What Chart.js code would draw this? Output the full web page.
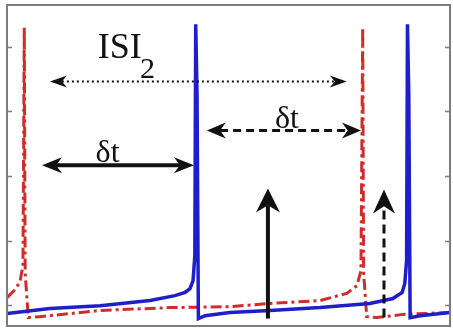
<!DOCTYPE html>
<html>
<head>
<meta charset="utf-8">
<script src="https://cdn.jsdelivr.net/npm/chart.js@4.4.1/dist/chart.umd.min.js"></script>
<style>
  html, body { margin: 0; padding: 0; background: #fff; }
  canvas { display: block; }
</style>
</head>
<body>
<canvas id="spikes" width="453" height="332"></canvas>
<script>
// trace 1 (blue, solid) - time / voltage
const blueT = [0, 9.7, 21.0, 32.3, 37.9, 40.2, 41.3, 42.0, 42.4, 42.6, 42.9, 43.2, 44.7, 50.3, 59.4, 70.7, 81.9, 87.1, 89.2, 89.8, 90.2, 90.4, 90.7, 91.0, 93.3, 100];
const blueV = [-62.6, -61.1, -60.2, -58.6, -57.1, -56.1, -54.9, -52.4, -44.7, 27.0, 5.0, -64.2, -63.3, -62.3, -61.7, -60.8, -59.5, -58.0, -56.1, -53.3, -46.2, 27.0, 5.0, -63.9, -63.3, -62.3];

// trace 2 (red, dash-dot)
const redT = [0, 1.6, 2.9, 3.6, 3.9, 4.1, 4.8, 7.4, 21.0, 36.8, 50.3, 59.4, 70.7, 76.7, 79.0, 79.9, 80.3, 80.5, 81.2, 83.5, 89.4, 100];
const redV = [-57.7, -55.5, -53.0, -47.8, 26.0, -50.0, -63.9, -63.6, -61.7, -60.8, -60.5, -59.5, -58.6, -56.4, -54.0, -49.3, 26.0, -50.0, -63.6, -63.9, -62.9, -62.3];

// y tick values (ticks only, no labels)
const yTicks = [-60, -40, -20, 0, 20];

// horizontal arrows: start t, end t, level
const hArrowT0 = [9.7, 7.9, 45.1];
const hArrowT1 = [76.7, 42.2, 79.9];
const hArrowV = [9.3, -16.7, -5.9];

// vertical arrows: t, from v, to v
const vArrowT = [58.9, 85.1];
const vArrowV0 = [-64.2, -63.9];
const vArrowV1 = [-23.9, -24.2];

// text labels
const labelText = ['ISI', '2', 'δt', 'δt'];
const labelT = [20.5, 30.0, 22.7, 63.2];
const labelV = [16.7, 10.5, -15.8, -5.0];

const toPts = (ts, vs) => ts.map((t, i) => ({ x: t, y: vs[i] }));

function drawHead(ctx, tx, ty, ang, len, half) {
    const c = Math.cos(ang), s = Math.sin(ang);
    const bx = tx - len * c, by = ty - len * s;
    const nx = -s, ny = c;
    ctx.beginPath();
    ctx.moveTo(tx, ty);
    ctx.lineTo(bx + nx * half, by + ny * half);
    ctx.lineTo(tx - len * 0.7 * c, ty - len * 0.7 * s);
    ctx.lineTo(bx - nx * half, by - ny * half);
    ctx.closePath();
    ctx.fill();
}

function drawArrow(ctx, x0, y0, x1, y1, opt) {
    const ang = Math.atan2(y1 - y0, x1 - x0);
    const c = Math.cos(ang), s = Math.sin(ang);
    const cut = opt.len * 0.7;
    ctx.save();
    ctx.strokeStyle = '#111';
    ctx.fillStyle = '#111';
    ctx.lineWidth = opt.width;
    ctx.setLineDash(opt.dash);
    ctx.beginPath();
    const sx = opt.both ? x0 + cut * c : x0, sy = opt.both ? y0 + cut * s : y0;
    ctx.moveTo(sx, sy);
    ctx.lineTo(x1 - cut * c, y1 - cut * s);
    ctx.stroke();
    ctx.setLineDash([]);
    drawHead(ctx, x1, y1, ang, opt.len, opt.half);
    if (opt.both) drawHead(ctx, x0, y0, ang + Math.PI, opt.len, opt.half);
    ctx.restore();
}

const hArrowStyle = [
    { width: 2, dash: [2, 3], len: 17, half: 6, both: true },
    { width: 4, dash: [], len: 20, half: 8, both: true },
    { width: 3, dash: [8, 5], len: 19, half: 8, both: true }
];
const vArrowStyle = [
    { width: 4, dash: [], len: 24, half: 12, both: false },
    { width: 3, dash: [9, 5], len: 24, half: 11, both: false }
];
const labelFont = ['36px "Liberation Serif"', '30px "Liberation Serif"', '32px "Liberation Serif"', '32px "Liberation Serif"'];
const labelAlign = ['left', 'left', 'center', 'center'];

const decorPlugin = {
    id: 'decor',
    afterDatasetsDraw(chart) {
        const { ctx, chartArea: a, scales: { x, y } } = chart;
        ctx.save();
        // frame
        ctx.strokeStyle = '#7d7d7d';
        ctx.lineWidth = 2;
        ctx.strokeRect(a.left, a.top, a.right - a.left, a.bottom - a.top);
        // inward ticks on both sides
        ctx.lineWidth = 1.5;
        yTicks.forEach(v => {
            const py = Math.round(y.getPixelForValue(v)) + 0.5;
            ctx.beginPath();
            ctx.moveTo(a.left, py); ctx.lineTo(a.left + 5, py);
            ctx.moveTo(a.right, py); ctx.lineTo(a.right - 5, py);
            ctx.stroke();
        });
        ctx.restore();

        hArrowT0.forEach((t0, i) => {
            const py = y.getPixelForValue(hArrowV[i]);
            drawArrow(ctx, x.getPixelForValue(t0), py, x.getPixelForValue(hArrowT1[i]), py, hArrowStyle[i]);
        });
        vArrowT.forEach((t, i) => {
            const px = x.getPixelForValue(t);
            drawArrow(ctx, px, y.getPixelForValue(vArrowV0[i]), px, y.getPixelForValue(vArrowV1[i]), vArrowStyle[i]);
        });

        ctx.save();
        ctx.fillStyle = '#111';
        ctx.textBaseline = 'alphabetic';
        labelText.forEach((txt, i) => {
            ctx.font = labelFont[i];
            ctx.textAlign = labelAlign[i];
            ctx.fillText(txt, x.getPixelForValue(labelT[i]), y.getPixelForValue(labelV[i]));
        });
        ctx.restore();
    }
};

new Chart(document.getElementById('spikes'), {
    type: 'line',
    data: {
        datasets: [
            {
                label: 'neuron 1',
                data: toPts(blueT, blueV),
                borderColor: '#1e1ecb',
                borderWidth: 3.5,
                pointRadius: 0,
                tension: 0,
                order: 0
            },
            {
                label: 'neuron 2',
                data: toPts(redT, redV),
                borderColor: '#cf2c2c',
                borderWidth: 3,
                borderDash: [11, 4, 3, 4],
                pointRadius: 0,
                tension: 0,
                order: 1
            }
        ]
    },
    options: {
        responsive: false,
        animation: false,
        layout: { padding: { left: 7, top: 5, right: 3, bottom: 6 } },
        plugins: { legend: { display: false }, tooltip: { enabled: false } },
        scales: {
            x: { type: 'linear', min: 0, max: 100, display: false },
            y: { type: 'linear', min: -66.5, max: 33, display: false }
        }
    },
    plugins: [decorPlugin]
});
</script>
</body>
</html>
